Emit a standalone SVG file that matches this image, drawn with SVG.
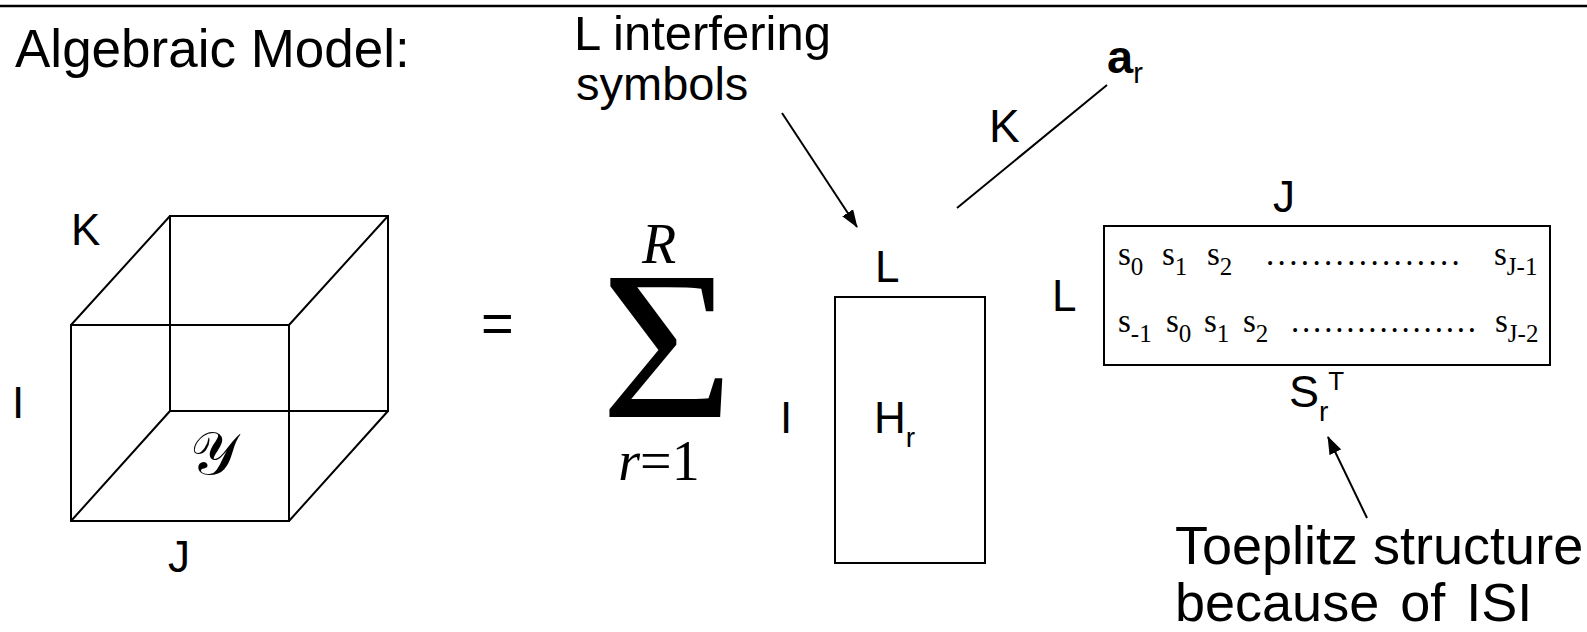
<svg xmlns="http://www.w3.org/2000/svg" width="1587" height="632" viewBox="0 0 1587 632">
<defs>
<style>
.ln{stroke:#000;stroke-width:2;fill:none}
.sans{font-family:"Liberation Sans",Arial,sans-serif;fill:#000}
.serif{font-family:"Liberation Serif","Times New Roman",serif;fill:#000}
.lbl{font-size:44px}
.mx{font-size:33px}
.sub{font-size:25px}
.dots{font-size:33px}
</style>
<marker id="ah" viewBox="0 0 18 13" refX="17" refY="6.5" markerWidth="18" markerHeight="13" markerUnits="userSpaceOnUse" orient="auto">
<path d="M0,0 L18,6.5 L0,13 Z" fill="#000"/>
</marker>
</defs>
<rect width="1587" height="632" fill="#fff"/>
<line x1="0" y1="6" x2="1587" y2="6" stroke="#000" stroke-width="2.5"/>
<text class="sans" x="15" y="67" font-size="53">Algebraic Model:</text>

<g id="tensor-Y">
<path class="ln" d="M71,325 H289 V521 H71 Z M170,216 H388 V411 H170 Z M71,325 L170,216 M289,325 L388,216 M289,521 L388,411 M71,521 L170,411"/>
<text class="sans lbl" x="71" y="245">K</text>
<text class="sans lbl" x="12" y="418">I</text>
<text class="sans lbl" x="168" y="572">J</text>
<text class="serif" x="190" y="474" font-size="60">𝒴</text>
</g>

<g id="equals">
<text class="sans" x="481" y="342" font-size="56">=</text>
</g>

<g id="sum">
<text class="serif" x="659" y="263" font-size="56" font-style="italic" text-anchor="middle">R</text>
<text class="serif" font-size="212" text-anchor="middle" transform="translate(667,417) scale(1.08,1)">Σ</text>
<text class="serif" x="659" y="480" font-size="56" text-anchor="middle"><tspan font-style="italic">r</tspan>=1</text>
</g>

<g id="H-matrix">
<rect class="ln" x="835" y="297" width="150" height="266"/>
<text class="sans lbl" x="875" y="282">L</text>
<text class="sans lbl" x="780" y="433">I</text>
<text class="sans lbl" x="874" y="433">H<tspan font-size="28" dy="14">r</tspan></text>
</g>

<g id="a-vector">
<text class="sans" x="989" y="142" font-size="46">K</text>
<text class="sans" x="1107" y="73" font-size="47" font-weight="bold">a<tspan font-weight="normal" font-size="29" dy="10">r</tspan></text>
</g>

<g id="S-matrix">
<rect class="ln" x="1104" y="226" width="446" height="139"/>
<text class="sans lbl" x="1273" y="212">J</text>
<text class="sans lbl" x="1052" y="311">L</text>
<text class="serif mx" y="265"><tspan x="1118">s</tspan><tspan class="sub" dy="10">0</tspan><tspan x="1162" dy="-10">s</tspan><tspan class="sub" dy="10">1</tspan><tspan x="1207" dy="-10">s</tspan><tspan class="sub" dy="10">2</tspan><tspan x="1494" dy="-10">s</tspan><tspan class="sub" dy="10">J-1</tspan></text>
<text class="serif dots" x="1266" y="265" letter-spacing="3.35">.................</text>
<text class="serif mx" y="332"><tspan x="1118">s</tspan><tspan class="sub" dy="10">-1</tspan><tspan x="1166" dy="-10">s</tspan><tspan class="sub" dy="10">0</tspan><tspan x="1204" dy="-10">s</tspan><tspan class="sub" dy="10">1</tspan><tspan x="1243" dy="-10">s</tspan><tspan class="sub" dy="10">2</tspan><tspan x="1495" dy="-10">s</tspan><tspan class="sub" dy="10">J-2</tspan></text>
<text class="serif dots" x="1291" y="332" letter-spacing="2.8">.................</text>
<text class="sans" x="1289" y="407" font-size="45">S<tspan font-size="28" dy="14">r</tspan><tspan font-size="26" dy="-31">T</tspan></text>
</g>

<g id="annot-interfering">
<text class="sans" x="574" y="50" font-size="49">L interfering</text>
<text class="sans" x="576" y="100" font-size="47">symbols</text>
</g>

<g id="annot-toeplitz">
<text class="sans" x="1175" y="564" font-size="54">Toeplitz structure</text>
<text class="sans" x="1175" y="621" font-size="54" word-spacing="6">because of ISI</text>
</g>

<g id="connectors">
<line class="ln" x1="782" y1="113" x2="857" y2="227" marker-end="url(#ah)"/>
<line class="ln" x1="957" y1="208" x2="1107" y2="85"/>
<line class="ln" x1="1367" y1="518" x2="1328" y2="437" marker-end="url(#ah)"/>
</g>
</svg>
